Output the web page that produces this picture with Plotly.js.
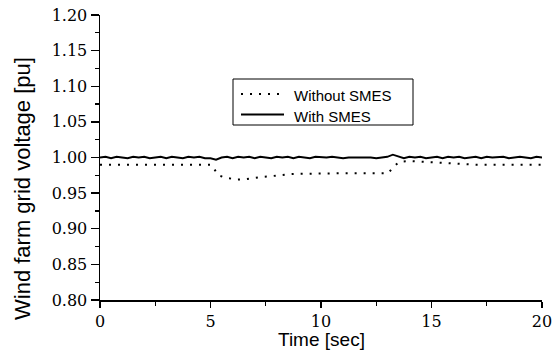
<!DOCTYPE html>
<html>
<head>
<meta charset="utf-8">
<script src="https://cdn.plot.ly/plotly-3.0.1.min.js"></script>
<style>html,body{margin:0;padding:0;background:#fff;}#chart{width:552px;height:363px;}</style>
</head>
<body>
<div id="chart"></div>
<script>
// Time axis samples for the "With SMES" trace [sec]
var timeWith = [0,0.25,0.5,0.75,1,1.25,1.5,1.75,2,2.25,2.5,2.75,3,3.25,3.5,3.75,4,4.25,4.5,4.75,
  5,5.25,5.5,5.75,6,6.25,6.5,6.75,7,7.25,7.5,7.75,8,8.25,8.5,8.75,9,9.25,9.5,9.75,
  10,10.25,10.5,10.75,11,11.25,11.5,11.75,12,12.25,12.5,12.75,13,13.25,13.5,13.75,14,14.25,14.5,14.75,
  15,15.25,15.5,15.75,16,16.25,16.5,16.75,17,17.25,17.5,17.75,18,18.25,18.5,18.75,19,19.25,19.5,19.75,20];
// Wind farm grid voltage with SMES [pu]
var withSMES = [1.000,1.001,0.999,1.001,1.000,0.999,1.001,1.000,1.001,0.999,1.000,1.001,0.999,1.001,1.000,0.999,1.001,1.000,1.001,0.999,
  0.999,0.997,1.000,1.001,0.999,1.001,1.000,1.001,0.999,1.001,1.000,0.999,1.001,1.000,1.001,0.999,1.001,1.000,0.999,1.001,
  1.000,1.000,1.001,1.000,0.999,1.000,1.000,1.001,1.000,1.000,0.999,1.000,1.001,1.004,1.001,0.999,1.001,1.000,1.001,0.999,
  1.000,1.001,0.999,1.001,1.000,1.001,0.999,1.000,1.001,0.999,1.001,1.000,1.000,1.001,0.999,1.000,1.001,1.000,0.999,1.001,1.000];
// Time samples for the "Without SMES" trace [sec]
var timeWithout = [0,5.0,5.1,5.35,5.7,6.2,6.6,7.0,7.4,7.8,8.2,8.6,9.0,10.0,11.0,12.0,13.05,13.25,13.55,14.0,15.0,16.0,17.0,18.0,20.0];
// Wind farm grid voltage without SMES [pu]
var withoutSMES = [0.990,0.990,0.987,0.975,0.9715,0.969,0.9695,0.9715,0.973,0.974,0.9757,0.9766,0.977,0.978,0.978,0.978,0.978,0.986,0.994,0.995,0.993,0.991,0.990,0.990,0.990];
var seriesNames = ["Without SMES", "With SMES"];
var xTitle = "Time [sec]";
var yTitle = "Wind farm grid voltage [pu]";
var yTickVals = [0.80,0.85,0.90,0.95,1.00,1.05,1.10,1.15,1.20];
var yTickText = ["0.80","0.85","0.90","0.95","1.00","1.05","1.10","1.15","1.20"];
var xTickVals = [0,5,10,15,20];

var dotDash = "2px,7px";
var traces = [
  {x: timeWithout, y: withoutSMES, name: seriesNames[0], mode: "lines",
   line: {color: "#000", width: 2, dash: dotDash}},
  {x: timeWith, y: withSMES, name: seriesNames[1], mode: "lines",
   line: {color: "#000", width: 1.9}}
];
var serif = "DejaVu Serif";
var sans = "Liberation Sans";
var tickFont = {family: serif, size: 16, color: "#000"};

// pixel -> paper helpers (plot area spans x 100..542, y 15..300)
function px(x) { return (x - 100) / 442; }
function py(y) { return 1 - (y - 15) / 285; }
var shapes = [
  {type: "rect", xref: "paper", yref: "paper", x0: px(233), x1: px(413), y0: py(125), y1: py(79),
   line: {color: "#000", width: 1}, fillcolor: "#fff", layer: "above"},
  {type: "line", xref: "paper", yref: "paper", x0: px(241), x1: px(281), y0: py(94), y1: py(94),
   line: {color: "#000", width: 2, dash: dotDash}, layer: "above"},
  {type: "line", xref: "paper", yref: "paper", x0: px(241), x1: px(284), y0: py(114.5), y1: py(114.5),
   line: {color: "#000", width: 1.9}, layer: "above"}
];
var annotations = [
  {xref: "paper", yref: "paper", x: px(292), y: py(95), xanchor: "left", yanchor: "middle",
   text: seriesNames[0], showarrow: false, font: {family: sans, size: 15, color: "#000"}},
  {xref: "paper", yref: "paper", x: px(292), y: py(116), xanchor: "left", yanchor: "middle",
   text: seriesNames[1], showarrow: false, font: {family: sans, size: 15, color: "#000"}},
  {xref: "paper", yref: "paper", x: px(321), y: py(339), xanchor: "center", yanchor: "middle",
   text: xTitle, showarrow: false, font: {family: sans, size: 19, color: "#000"}},
  {xref: "paper", yref: "paper", x: px(22), y: py(189), xanchor: "center", yanchor: "middle", textangle: -90,
   text: yTitle, showarrow: false, font: {family: sans, size: 22, color: "#000"}}
];

var layout = {
  width: 552, height: 363,
  margin: {l: 100, r: 10, t: 15, b: 63},
  paper_bgcolor: "#fff", plot_bgcolor: "#fff",
  showlegend: false,
  shapes: shapes,
  annotations: annotations,
  xaxis: {range: [0, 20], tickvals: xTickVals, ticks: "outside", ticklen: 6, tickwidth: 1.3,
    tickcolor: "#000", showline: true, linecolor: "#000", linewidth: 1.5, showgrid: false,
    zeroline: false, tickfont: tickFont, ticklabeloverflow: "allow", automargin: false,
    minor: {dtick: 2.5, tick0: 0, ticks: "outside", ticklen: 4, tickwidth: 1.3, tickcolor: "#000", showgrid: false}},
  yaxis: {range: [0.80, 1.20], tickvals: yTickVals, ticktext: yTickText, ticks: "outside", ticklen: 8, tickwidth: 1.3,
    tickcolor: "#000", showline: true, linecolor: "#000", linewidth: 1.5, showgrid: false,
    zeroline: false, tickfont: tickFont, ticklabeloverflow: "allow", automargin: false,
    minor: {dtick: 0.025, tick0: 0.8, ticks: "outside", ticklen: 4, tickwidth: 1.3, tickcolor: "#000", showgrid: false}}
};
Plotly.newPlot("chart", traces, layout, {displayModeBar: false, staticPlot: true});
</script>
</body>
</html>
